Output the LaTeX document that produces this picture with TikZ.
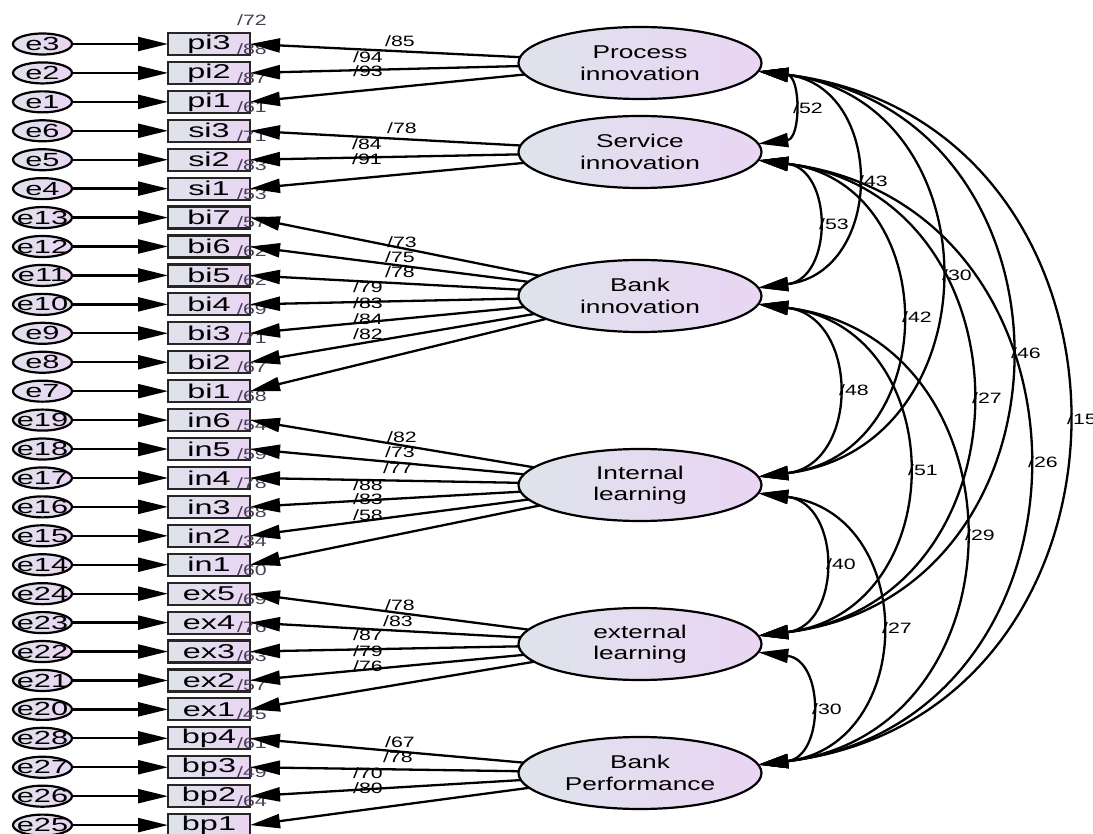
\documentclass[tikz,border=0pt]{standalone}
\usepackage{fontspec}
\setmainfont{Liberation Sans}[FakeStretch=1.42]
\newfontfamily\widefont{Liberation Sans}[FakeStretch=1.62]
\usetikzlibrary{arrows.meta,positioning,shapes.geometric}
\definecolor{shadeleft}{RGB}{222,227,236}
\definecolor{shaderight}{RGB}{234,213,243}
\definecolor{rsqgray}{RGB}{72,62,84}
\newcommand{\errname}[1]{\makebox[0pt]{#1}}

\begin{document}
\begin{tikzpicture}[x=1pt,y=-1pt,>={Triangle[length=30pt,width=14pt]},line width=2.3pt]
        \tikzset{obs/.style={draw=black!85,line width=2.2pt,rectangle,outer sep=0pt,inner sep=0pt,
                minimum width=82pt,minimum height=22pt,left color=shadeleft,right color=shaderight,
                font=\widefont\fontsize{20}{20}\selectfont},
        err/.style={draw,ellipse,line width=2.2pt,outer sep=0pt,inner sep=0pt,
                minimum width=59pt,minimum height=21pt,left color=shadeleft,right color=shaderight,
                font=\widefont\fontsize{19}{19}\selectfont},
        lat/.style={draw,ellipse,line width=2.2pt,outer sep=0pt,inner sep=0pt,align=center,
                minimum width=243pt,minimum height=72pt,left color=shadeleft,right color=shaderight,
                font=\fontsize{18.5}{21.5}\selectfont},
        num/.style={inner sep=0pt,font=\fontsize{15}{15}\selectfont},
        rsq/.style={num,text=rsqgray},
        cov/.style={<->,bend left=83,looseness=1.52},
        }
        \useasboundingbox (0,0) rectangle (1093,834);

%%% observed variables
        \node [obs] (pi3) at (209,44) {pi3};
        \node [obs,below=6.93pt of pi3] (pi2) {pi2};
        \node [obs,below=6.93pt of pi2] (pi1) {pi1};
        \node [obs,below=6.93pt of pi1] (si3) {si3};
        \node [obs,below=6.93pt of si3] (si2) {si2};
        \node [obs,below=6.93pt of si2] (si1) {si1};
        \node [obs,below=6.93pt of si1] (bi7) {bi7};
        \node [obs,below=6.93pt of bi7] (bi6) {bi6};
        \node [obs,below=6.93pt of bi6] (bi5) {bi5};
        \node [obs,below=6.93pt of bi5] (bi4) {bi4};
        \node [obs,below=6.93pt of bi4] (bi3) {bi3};
        \node [obs,below=6.93pt of bi3] (bi2) {bi2};
        \node [obs,below=6.93pt of bi2] (bi1) {bi1};
        \node [obs,below=6.93pt of bi1] (in6) {in6};
        \node [obs,below=6.93pt of in6] (in5) {in5};
        \node [obs,below=6.93pt of in5] (in4) {in4};
        \node [obs,below=6.93pt of in4] (in3) {in3};
        \node [obs,below=6.93pt of in3] (in2) {in2};
        \node [obs,below=6.93pt of in2] (in1) {in1};
        \node [obs,below=6.93pt of in1] (ex5) {ex5};
        \node [obs,below=6.93pt of ex5] (ex4) {ex4};
        \node [obs,below=6.93pt of ex4] (ex3) {ex3};
        \node [obs,below=6.93pt of ex3] (ex2) {ex2};
        \node [obs,below=6.93pt of ex2] (ex1) {ex1};
        \node [obs,below=6.93pt of ex1] (bp4) {bp4};
        \node [obs,below=6.93pt of bp4] (bp3) {bp3};
        \node [obs,below=6.93pt of bp3] (bp2) {bp2};
        \node [obs,below=6.93pt of bp2] (bp1) {bp1};

%%% error terms
        \node [err,left=96pt of pi3] (e3) {\errname{e3}};
        \node [err,left=96pt of pi2] (e2) {\errname{e2}};
        \node [err,left=96pt of pi1] (e1) {\errname{e1}};
        \node [err,left=96pt of si3] (e6) {\errname{e6}};
        \node [err,left=96pt of si2] (e5) {\errname{e5}};
        \node [err,left=96pt of si1] (e4) {\errname{e4}};
        \node [err,left=96pt of bi7] (e13) {\errname{e13}};
        \node [err,left=96pt of bi6] (e12) {\errname{e12}};
        \node [err,left=96pt of bi5] (e11) {\errname{e11}};
        \node [err,left=96pt of bi4] (e10) {\errname{e10}};
        \node [err,left=96pt of bi3] (e9) {\errname{e9}};
        \node [err,left=96pt of bi2] (e8) {\errname{e8}};
        \node [err,left=96pt of bi1] (e7) {\errname{e7}};
        \node [err,left=96pt of in6] (e19) {\errname{e19}};
        \node [err,left=96pt of in5] (e18) {\errname{e18}};
        \node [err,left=96pt of in4] (e17) {\errname{e17}};
        \node [err,left=96pt of in3] (e16) {\errname{e16}};
        \node [err,left=96pt of in2] (e15) {\errname{e15}};
        \node [err,left=96pt of in1] (e14) {\errname{e14}};
        \node [err,left=96pt of ex5] (e24) {\errname{e24}};
        \node [err,left=96pt of ex4] (e23) {\errname{e23}};
        \node [err,left=96pt of ex3] (e22) {\errname{e22}};
        \node [err,left=96pt of ex2] (e21) {\errname{e21}};
        \node [err,left=96pt of ex1] (e20) {\errname{e20}};
        \node [err,left=96pt of bp4] (e28) {\errname{e28}};
        \node [err,left=96pt of bp3] (e27) {\errname{e27}};
        \node [err,left=96pt of bp2] (e26) {\errname{e26}};
        \node [err,left=96pt of bp1] (e25) {\errname{e25}};

%%% latent variables
        \node [lat] (proc) at (640,63) {Process\\innovation};
        \node [lat] (serv) at (640,152) {Service\\innovation};
        \node [lat] (bank) at (640,296) {Bank\\innovation};
        \node [lat] (intl) at (640,485) {Internal\\learning};
        \node [lat] (extl) at (640,644) {external\\learning};
        \node [lat] (perf) at (640,773) {Bank\\Performance};

%%% squared multiple correlations
        \node [rsq] (r-top) at ([xshift=2pt,yshift=24pt]pi3.east) {/72};
        \node [rsq] (r-pi3) at ([xshift=2pt,yshift=-5pt]pi3.east) {/88};
        \node [rsq] (r-pi2) at ([xshift=2pt,yshift=-5pt]pi2.east) {/87};
        \node [rsq] (r-pi1) at ([xshift=2pt,yshift=-5pt]pi1.east) {/61};
        \node [rsq] (r-si3) at ([xshift=2pt,yshift=-5pt]si3.east) {/71};
        \node [rsq] (r-si2) at ([xshift=2pt,yshift=-5pt]si2.east) {/83};
        \node [rsq] (r-si1) at ([xshift=2pt,yshift=-5pt]si1.east) {/53};
        \node [rsq] (r-bi7) at ([xshift=2pt,yshift=-5pt]bi7.east) {/57};
        \node [rsq] (r-bi6) at ([xshift=2pt,yshift=-5pt]bi6.east) {/62};
        \node [rsq] (r-bi5) at ([xshift=2pt,yshift=-5pt]bi5.east) {/62};
        \node [rsq] (r-bi4) at ([xshift=2pt,yshift=-5pt]bi4.east) {/69};
        \node [rsq] (r-bi3) at ([xshift=2pt,yshift=-5pt]bi3.east) {/71};
        \node [rsq] (r-bi2) at ([xshift=2pt,yshift=-5pt]bi2.east) {/67};
        \node [rsq] (r-bi1) at ([xshift=2pt,yshift=-5pt]bi1.east) {/68};
        \node [rsq] (r-in6) at ([xshift=2pt,yshift=-5pt]in6.east) {/54};
        \node [rsq] (r-in5) at ([xshift=2pt,yshift=-5pt]in5.east) {/59};
        \node [rsq] (r-in4) at ([xshift=2pt,yshift=-5pt]in4.east) {/78};
        \node [rsq] (r-in3) at ([xshift=2pt,yshift=-5pt]in3.east) {/68};
        \node [rsq] (r-in2) at ([xshift=2pt,yshift=-5pt]in2.east) {/34};
        \node [rsq] (r-in1) at ([xshift=2pt,yshift=-5pt]in1.east) {/60};
        \node [rsq] (r-ex5) at ([xshift=2pt,yshift=-5pt]ex5.east) {/69};
        \node [rsq] (r-ex4) at ([xshift=2pt,yshift=-5pt]ex4.east) {/76};
        \node [rsq] (r-ex3) at ([xshift=2pt,yshift=-5pt]ex3.east) {/63};
        \node [rsq] (r-ex2) at ([xshift=2pt,yshift=-5pt]ex2.east) {/57};
        \node [rsq] (r-ex1) at ([xshift=2pt,yshift=-5pt]ex1.east) {/45};
        \node [rsq] (r-bp4) at ([xshift=2pt,yshift=-5pt]bp4.east) {/61};
        \node [rsq] (r-bp3) at ([xshift=2pt,yshift=-5pt]bp3.east) {/49};
        \node [rsq] (r-bp2) at ([xshift=2pt,yshift=-5pt]bp2.east) {/64};

%%% loadings
        \node [num] (l-pi3) at (400,41) {/85};
        \node [num] (l-pi2) at (368,57) {/94};
        \node [num] (l-pi1) at (368,71) {/93};
        \node [num] (l-si3) at (402,128) {/78};
        \node [num] (l-si2) at (367,144) {/84};
        \node [num] (l-si1) at (367,159) {/91};
        \node [num] (l-bi7) at (402,242) {/73};
        \node [num] (l-bi6) at (400,257) {/75};
        \node [num] (l-bi5) at (400,272) {/78};
        \node [num] (l-bi4) at (368,287) {/79};
        \node [num] (l-bi3) at (368,303) {/83};
        \node [num] (l-bi2) at (368,319) {/84};
        \node [num] (l-bi1) at (368,334) {/82};
        \node [num] (l-in6) at (402,437) {/82};
        \node [num] (l-in5) at (400,452) {/73};
        \node [num] (l-in4) at (398,468) {/77};
        \node [num] (l-in3) at (368,485) {/88};
        \node [num] (l-in2) at (368,499) {/83};
        \node [num] (l-in1) at (368,515) {/58};
        \node [num] (l-ex5) at (400,605) {/78};
        \node [num] (l-ex4) at (398,621) {/83};
        \node [num] (l-ex3) at (368,635) {/87};
        \node [num] (l-ex2) at (368,651) {/79};
        \node [num] (l-ex1) at (368,666) {/76};
        \node [num] (l-bp4) at (400,742) {/67};
        \node [num] (l-bp3) at (398,757) {/78};
        \node [num] (l-bp2) at (368,773) {/70};
        \node [num] (l-bp1) at (368,788) {/80};

%%% correlations
        \node [num] (c-ps) at (808,108) {/52};
        \node [num] (c-pb) at (873,181) {/43};
        \node [num] (c-sb) at (834,224) {/53};
        \node [num] (c-pi) at (957,275) {/30};
        \node [num] (c-si) at (917,317) {/42};
        \node [num] (c-pe) at (1026,353) {/46};
        \node [num] (c-bi) at (854,390) {/48};
        \node [num] (c-se) at (987,398) {/27};
        \node [num] (c-pp) at (1082,419) {/15};
        \node [num] (c-sp) at (1043,462) {/26};
        \node [num] (c-be) at (923,470) {/51};
        \node [num] (c-bp) at (980,535) {/29};
        \node [num] (c-ie) at (841,564) {/40};
        \node [num] (c-ip) at (897,628) {/27};
        \node [num] (c-ep) at (827,709) {/30};

%%% paths
        \path[draw,->] (e3) edge (pi3) (e2) edge (pi2) (e1) edge (pi1)
                    (e6) edge (si3) (e5) edge (si2) (e4) edge (si1)
                    (e13) edge (bi7) (e12) edge (bi6) (e11) edge (bi5) (e10) edge (bi4)
                    (e9) edge (bi3) (e8) edge (bi2) (e7) edge (bi1)
                    (e19) edge (in6) (e18) edge (in5) (e17) edge (in4)
                    (e16) edge (in3) (e15) edge (in2) (e14) edge (in1)
                    (e24) edge (ex5) (e23) edge (ex4) (e22) edge (ex3)
                    (e21) edge (ex2) (e20) edge (ex1)
                    (e28) edge (bp4) (e27) edge (bp3) (e26) edge (bp2) (e25) edge (bp1)
                    ;
        \path[draw,->] (proc) edge (pi3.east) (proc) edge (pi2.east) (proc) edge (pi1.east)
                    (serv) edge (si3.east) (serv) edge (si2.east) (serv) edge (si1.east)
                    (bank) edge (bi7.east) (bank) edge (bi6.east) (bank) edge (bi5.east)
                    (bank) edge (bi4.east) (bank) edge (bi3.east) (bank) edge (bi2.east)
                    (bank) edge (bi1.east)
                    (intl) edge (in6.east) (intl) edge (in5.east) (intl) edge (in4.east)
                    (intl) edge (in3.east) (intl) edge (in2.east) (intl) edge (in1.east)
                    (extl) edge (ex5.east) (extl) edge (ex4.east) (extl) edge (ex3.east)
                    (extl) edge (ex2.east) (extl) edge (ex1.east)
                    (perf) edge (bp4.east) (perf) edge (bp3.east) (perf) edge (bp2.east)
                    (perf) edge (bp1.east)
                    ;
        \draw[cov] (proc.-4.4) to (serv.4.4);
        \draw[cov] (proc.-4.4) to (bank.4.4);
        \draw[cov] (proc.-4.4) to (intl.4.4);
        \draw[cov] (proc.-4.4) to (extl.4.4);
        \draw[cov] (proc.-4.4) to (perf.4.4);
        \draw[cov] (serv.-4.4) to (bank.4.4);
        \draw[cov] (serv.-4.4) to (intl.4.4);
        \draw[cov] (serv.-4.4) to (extl.4.4);
        \draw[cov] (serv.-4.4) to (perf.4.4);
        \draw[cov] (bank.-4.4) to (intl.4.4);
        \draw[cov] (bank.-4.4) to (extl.4.4);
        \draw[cov] (bank.-4.4) to (perf.4.4);
        \draw[cov] (intl.-4.4) to (extl.4.4);
        \draw[cov] (intl.-4.4) to (perf.4.4);
        \draw[cov] (extl.-4.4) to (perf.4.4);
\end{tikzpicture}
\end{document}
